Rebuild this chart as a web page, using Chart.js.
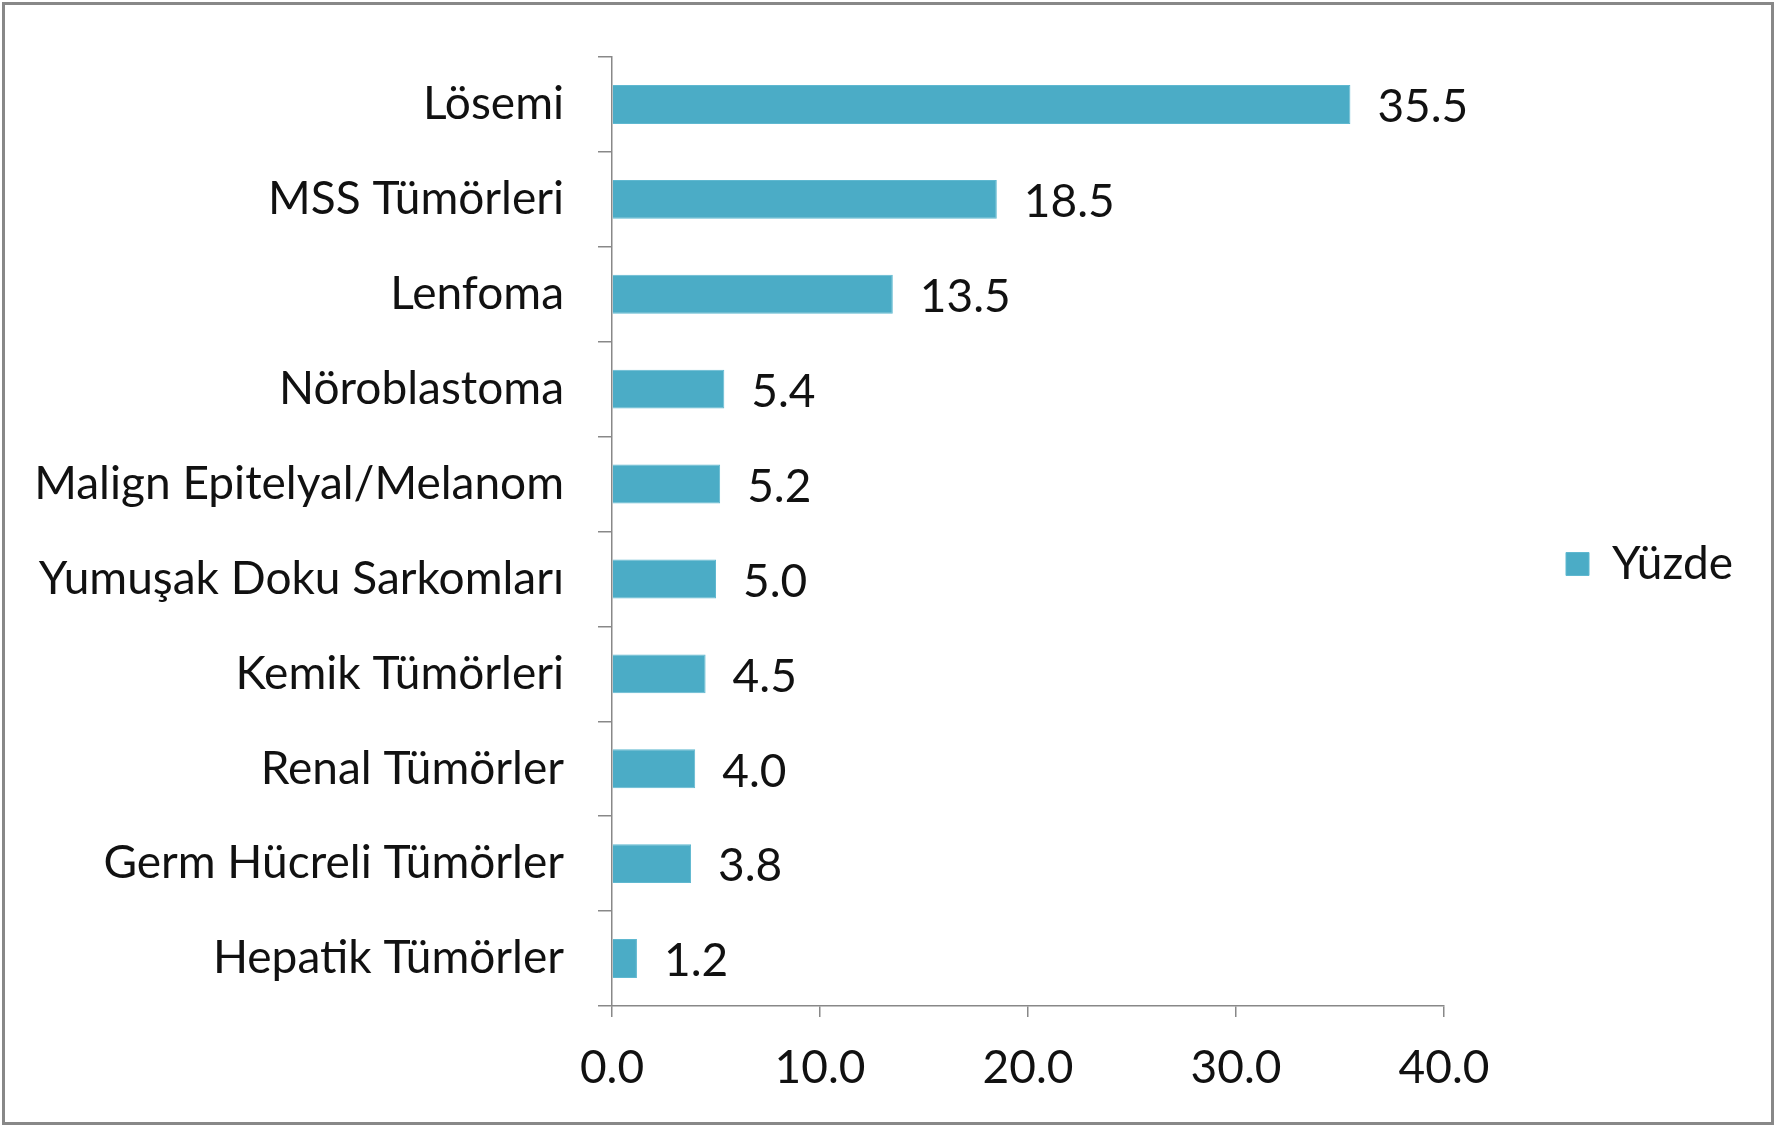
<!DOCTYPE html>
<html>
<head>
<meta charset="utf-8">
<script src="https://cdn.jsdelivr.net/npm/chart.js@4.4.0/dist/chart.umd.min.js"></script>
<style>
  body { margin: 0; background: #fff; }
  #wrap { position: relative; width: 1787px; height: 1127px; }
  #frame { position: absolute; left: 2px; top: 2px; width: 1766px; height: 1117px;
           border: 3px solid #888; pointer-events: none; }
</style>
</head>
<body>
<div id="wrap">
  <canvas id="bar-chart" width="1787" height="1127"></canvas>
  <div id="frame"></div>
</div>
<script>
const categories = ['Lösemi', 'MSS Tümörleri', 'Lenfoma', 'Nöroblastoma',
  'Malign Epitelyal/Melanom', 'Yumuşak Doku Sarkomları', 'Kemik Tümörleri',
  'Renal Tümörler', 'Germ Hücreli Tümörler', 'Hepatik Tümörler']
const percentValues = [35.5, 18.5, 13.5, 5.4, 5.2, 5.0, 4.5, 4.0, 3.8, 1.2]
const seriesName = 'Yüzde'
const xTicks = [0, 10, 20, 30, 40]

const fontFamily = 'Lato, "Open Sans", sans-serif'
const fontSize = 46
const axisColor = '#888'

// writes the value just after the end of each bar
const valueLabels = {
  id: 'valueLabels',
  afterDatasetsDraw(chart) {
    const ctx = chart.ctx
    const meta = chart.getDatasetMeta(0)
    ctx.save()
    ctx.font = fontSize + 'px ' + fontFamily
    ctx.fillStyle = '#111'
    ctx.textAlign = 'left'
    ctx.textBaseline = 'middle'
    meta.data.forEach(function(bar, i) {
      ctx.fillText(percentValues[i].toFixed(1), bar.x + 27, bar.y + 3)
    })
    ctx.restore()
  }
}

var ctx = document.getElementById('bar-chart').getContext('2d')
var myChart = new Chart(ctx, {
  type: 'bar',
  data: {
    labels: categories,
    datasets: [{
      label: seriesName,
      data: percentValues,
      backgroundColor: '#4BACC6',
      borderColor: '#5fb8d0',
      borderWidth: 1,
      barPercentage: 1,
      categoryPercentage: 0.41
    }]
  },
  options: {
    indexAxis: 'y',
    responsive: false,
    animation: false,
    layout: { padding: { top: 1, bottom: 0, left: 0, right: 10 } },
    plugins: {
      legend: {
        position: 'right',
        labels: {
          boxWidth: 23,
          boxHeight: 23,
          padding: 122,
          color: '#111',
          font: { family: fontFamily, size: fontSize }
        }
      },
      tooltip: { enabled: false }
    },
    scales: {
      x: {
        min: 0,
        max: 40,
        afterBuildTicks(scale) {
          scale.ticks = xTicks.map(v => ({ value: v }))
        },
        afterFit(scale) {
          scale.height = 121
          scale.paddingRight = 343
        },
        grid: { drawOnChartArea: false, tickLength: 11, color: axisColor, lineWidth: 1.5 },
        border: { color: axisColor, width: 1.5 },
        ticks: {
          padding: 24,
          color: '#111',
          font: { family: fontFamily, size: fontSize },
          callback: v => Number(v).toFixed(1)
        }
      },
      y: {
        afterFit(scale) {
          scale.width = 612
          scale.paddingTop = 57
          scale.paddingBottom = 0
        },
        grid: { drawOnChartArea: false, tickLength: 14, color: axisColor, lineWidth: 1.5, offset: true },
        border: { color: axisColor, width: 1.5 },
        ticks: {
          padding: 34,
          color: '#111',
          font: { family: fontFamily, size: fontSize }
        }
      }
    }
  },
  plugins: [valueLabels]
})
</script>
</body>
</html>
